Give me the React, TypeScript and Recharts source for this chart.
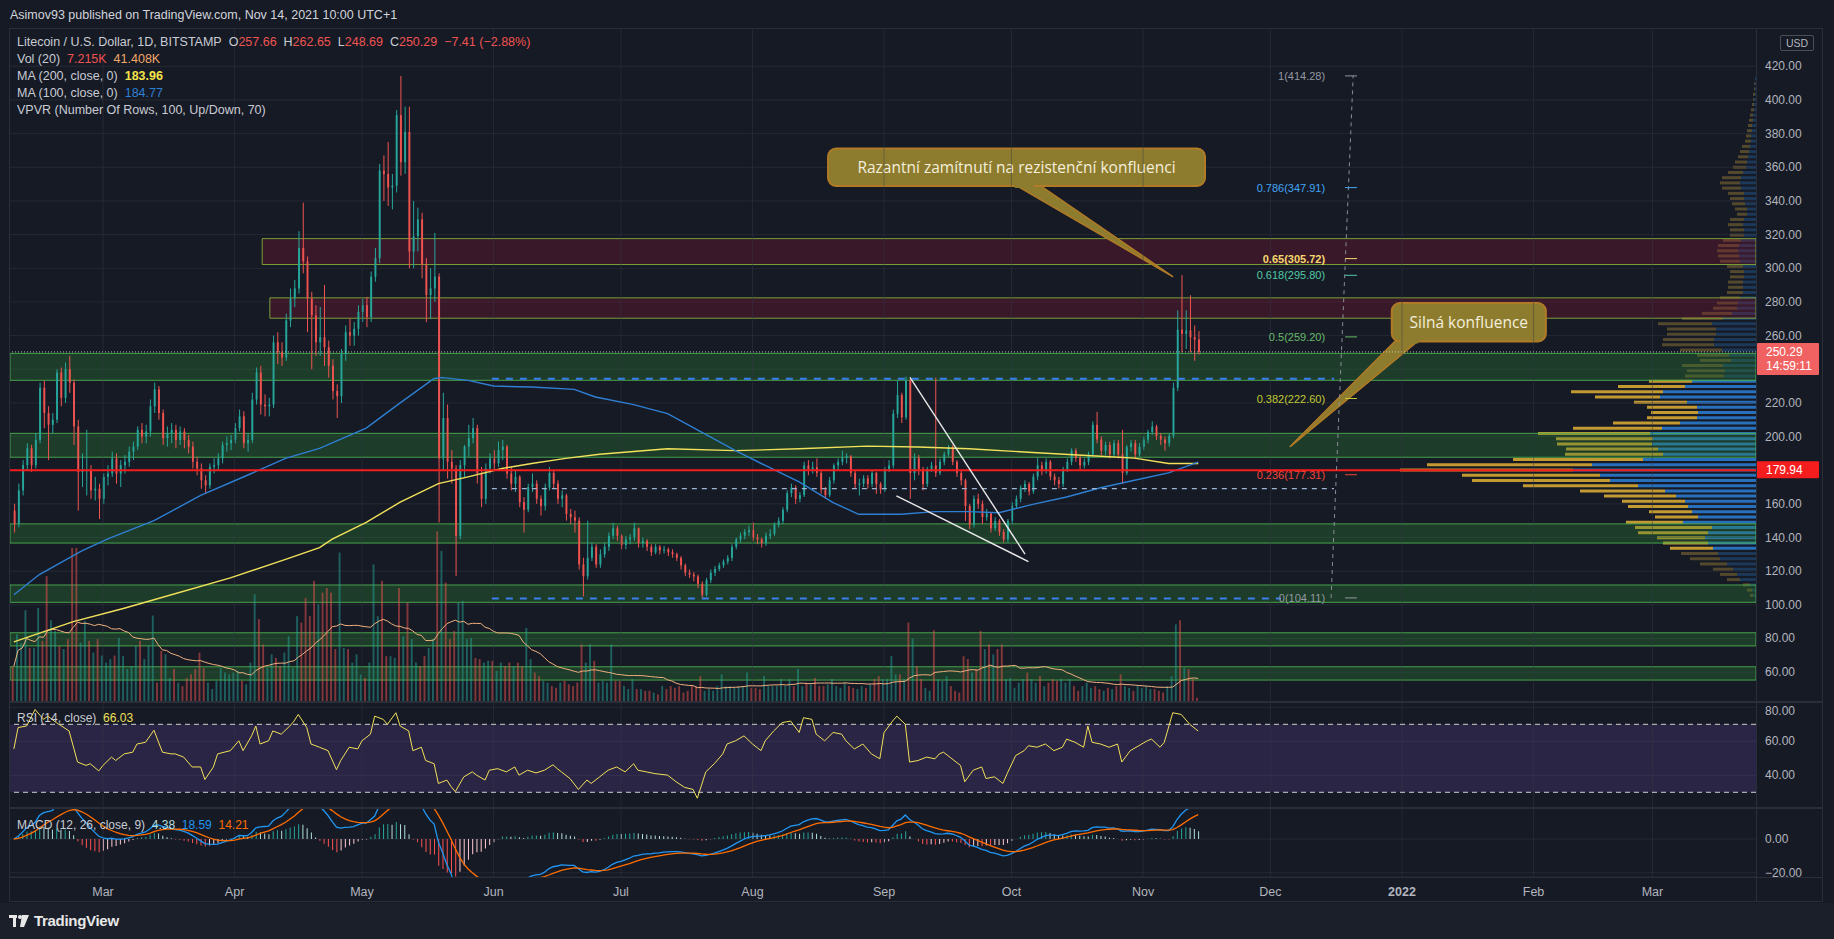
import React from "react";
import {
  ComposedChart, BarChart, Bar, Line, XAxis, YAxis, CartesianGrid,
  ReferenceArea, ReferenceLine, ReferenceDot, Cell,
} from "recharts";

// ---------------- categories (days after 1 Mar 2021) ----------------
const FIRST_DAY = -21; // first candle: 8 Feb 2021
const monthTicks = [0, 31, 61, 92, 122, 153, 184, 214, 245, 275, 306, 337, 365];
const monthNames = ["Mar", "Apr", "May", "Jun", "Jul", "Aug", "Sep", "Oct", "Nov", "Dec", "2022", "Feb", "Mar"];
const priceTicks = [60, 80, 100, 120, 140, 160, 180, 200, 220, 240, 260, 280, 300, 320, 340, 360, 380, 400, 420];

// ---------------- LTCUSD daily candles ----------------
const firstOpen = 156;
const closes = [
  148,168,183,193,183,198,229,214,207,210,238,223,240,232,206,179,180,180,168,169,163,
  176,178,187,178,183,185,191,194,204,200, 203,218,228,214,199,202,204,198,203,198,
  194,185,181,174,171,182,183,187,195,196, 198,205,212,196,198,222,238,219,218,219,
  256,250,247,269,282,288,312,304,282,272, 256,
  259,253,242,227,224,249,262,260,264,274, 278,271,295,306,358,356,348,349,391,363,
  381,310,319,329,302,284,288,295,187,211, 185,181,141,183,194,199,205,178,163,181,
  187,184,192,194,178,172,176,161,156.5,170, 172,163,158.7,169.6,178.4,172,163,165,154,152,
  150,124,117,128,134.5,124,
  130,134.5,141,145.5,141,135.6,138.9,140,145.5,136.7, 138,134.5,131.2,134.5,132.3,133,131.2,130.1,127.9,123.5,
  119.1,118,116.9,112.5,106,114.7,119.1,121.3,123.5,125.7, 127.9,134.5,138.9,141.1,143.3,144.4,140,138.9,136.7,141.1,
  142.2,147.7,149.9,156.5,166.4,169.6,163,165.2,182.8,180.6, 181.7,178.4,168.5,165.2,174,182.8,185,187.2,188.3,178.4,
  171.8,172,175.1,171.8,178.4,171.8,168.5,180.6,182.8,213.6, 224.6,211.4,233.4,
  178.4,187.2,180.6,171.8,180.6,182.8,178.4,185,189.4,193.8, 185,178.4,174,158.7,147.7,163,160,152.1,154.3,145.5,
  149.9,143.3,138.9,149.9,158.7,163,169.6,171.8,167.4,176.2, 182.8,180,185,176.2,174,171.8,180.6,185,191.6,187.2,
  182.8,185,189.4,207,198.2,191.6,195,189.4,196,189.4, 178.4,193.8,196,189.4,193.8,198.2,202.6,205.9,200.4,198.2,
  196,200.4,229,263.5,261,263,259,257.66,250.29,
];
const highs = [
  160,172,186,196,195,202,232,233,218,214,240,241,244,248,234,210,190,204,183,176,172,
  178,183,191,190,186,189,194,197,206,208, 207,222,232,230,216,206,208,207,206,205,
  201,197,188,184,177,184,187,190,197,200, 201,208,216,215,202,226,241,242,225,223,
  260,262,256,273,288,293,322,339,307,286, 278,
  277,290,257,246,231,252,266,270,268,278, 282,283,298,312,362,367,375,356,394,414.28,
  396,396,340,336,333,306,300,321,297,226, 219,192,183,186,195,207,211,207,182,184,
  190,192,197,198,195,182,180,177,164,172, 178,174,165,172,182,180,174,168,166,157,
  156,152,128,150,137,136,
  133,137,143,148.8,147,142,141,142,148.8,146, 140,139,136,136,135.5,135,134,133,131,129,
  124.5,121,119.5,118,114,116,121,123,125,127, 129.5,136,140,143,145,147,149,142,140,143,
  145,149,152,158,168,172,171,167,185,186, 185,187,180,170,176,184,187,191.6,190,189,
  180,175,177,177,180,179,173,182,186,216, 233.4,226,235.6,
  234,190,189,182,182,185,235,187,191,195, 195,186,180,175,160,165,166,162,157,155,
  152,151,145,151,161,165,171,174,173,178, 187.2,185,187,186,178,176,182,187,193,193,
  189,187,191,209,214.7,200,197,197,198,198, 204,195,198,198,196,200,204,209,207,202,
  200,202,232,275,296,275,284,266,262.65,
];
const lows = [
  143,146,165,180,179,181,196,205,186,202,208,218,220,226,195,156,170,165,163,162,151,
  160,171,176,172,170,178,182,186,192,196, 196,200,214,210,195,194,196,193,195,193,
  190,181,177,169,166,169,178,180,184,191, 192,196,203,193,191,196,219,213,212,212,
  217,243,242,245,265,277,285,297,262,240, 248,
  248,242,235,222,211,220,245,254,254,260, 268,265,268,292,303,340,337,335,345,355,
  356,300,300,310,294,268,270,280,149,180, 175,172,117,139,176,188,196,172,158,160,
  178,180,182,186,175,168,167,158,143,155, 167,160,153,156,168,169,160,158,150,148,
  143,121,105,115,126,122,
  122,128,132,139,138,133,133,136,138,134, 134,132,129,130,130,130.5,129,128,126,121,
  117,116,114,110,104.11,105,113,117,120,122, 124,126,133,137,139,141,138,136,134,135,
  139,141,146,148,155,164,160,161,164,177, 178,176,166,163,164,172,180,183,184,176,
  169,165,170,169,170,166,166,167,179,181, 211,208,210,
  163,174,177,168,170,179,176,177,183,188, 183,176,171,149.8,145,146,157,148,150,143,
  144,141,137,137,148,157,161,167,165,166, 174,177,178,174,171,169,170,179,183,185,
  180,181,183,188,196,189,189,187,188,187, 171.8,177,191,187,188,192,196,201,198,195,
  191.6,194,199,227,250,252,250,245,248.69,
];
// volume in thousands of LTC
const volumes = [
  61,115,100,156,92,92,160,104,214,139,121,95,90,107,262,262,
  101,138,104,84,107,
  79,67,73,79,109,78,56,61,96,104, 73,96,147,33,87,81,41,56,33,27,
  41,47,56,84,58,33,22,36,58,50, 47,50,53,36,30,67,183,141,98,58,
  81,75,61,84,112,58,146,135,177,146, 206,166,186,194,186,90,254,
  92,90,67,81,47,41,67,234,146,206,78,78,75,194,112,169,107,67,61,78,92,107,
  290,257,203,107,121,169,172,107,109,75,73,67,70,70,53,67,61,67,61,67,61,126,73,50,44,36,33,27,24,33,36,30,27,33,98,67,98,70,
  33,36,33,98,36,36,27,22,39,22,22,19,19,16,13,27,22,27,24,27,16,19,27,27,44,
  19,22,19,27,47,27,27,24,27,27,50,24,24,22,44,27,27,27,39,27,39,27,56,27,33,30,41,27,27,30,39,27,24,33,27,24,22,27,24,30,39,44,39,39,78,47,47,39,
  135,108,61,39,24,19,122,39,36,44,27,19,16,78,73,50,56,121,90,98,81,90,98,39,41,24,33,39,50,39,33,44,27,33,39,36,39,33,39,27,19,27,33,24,27,22,19,24,22,27,47,27,24,19,27,24,27,22,22,19,16,27,44,132,139,58,56,39,7.2,
];

// ---------------- moving averages ----------------
const ma100Days = [-21,-15,-5,1,12,23,34,43,51,62,70,78,80,86,92,101,111,116,125,133,141,149,156,164,172,178,188,196,204,211,219,227,235,243,251,258];
const ma100Vals = [106,118,132,139,150,165,177,187,193,205,220,234.5,235,233.4,230,229.4,228,223.5,219,213.6,202.6,191.6,182.8,173,160.8,153.8,153.8,155.4,155.4,154.7,159.7,164.1,169.6,174,178.4,184.77];
const ma200Days = [-21,-7,5,12,30,43,51,54,62,70,79,86,94,101,109,117,133,149,164,180,192,204,219,235,243,251,258];
const ma200Vals = [78,90,98,103,116,127,134,139,149,161,172,176,181,184,187,189.5,192.7,191.6,192.7,194.3,193.8,192.7,190.5,188.3,187.2,184,183.96];

// ---------------- RSI (14) ----------------
const rsiDays = [
  -21,-20,-18,-16,-14,-13,-11,-8,-6,-4, -3,-1,0,2,3,5,7,8,10,12, 14,16,17,19,21,23,24,26,27,30,
  32,33,35,36,37,39,40,42,44,45, 46,48,49,51,53,55,56,57,58,60, 61,63,64,66,67,69,70,72,73,75,
  76,78,79,81,82,83,85,87,88,90, 91,93,95,97,98,100,102,104,106,107, 108,110,112,114,115,117,119,121,123,125,
  126,128,130,133,135,137,139,140,142,144, 146,147,149,151,153,155,156,158,160,162, 164,165,167,168,170,172,174,175,177,179,
  181,183,184,186,187,189,190,192,194,196, 197,198,200,202,203,205,207,208,210,212, 213,215,217,218,220,222,224,226,227,229,
  231,232,233,235,237,239,240,242,244,246, 247,249,250,252,254,256,258,
];
const rsiVals = [
  55.5,68.1,69,78.7,72.9,74.8,71,66.1,47.8,45.8, 46.8,42.6,45.8,50.7,48.7,52.6,53.6,58.4,59.4,66.5, 53.6,52.6,52.6,50.7,44.9,44.9,37.5,44.9,52.6,54.5,
  60.3,54.5,63.2,69,58.4,60.3,66.1,64.2,69,71.9, 75.8,68.1,58.4,56.5,54.5,43.3,48.7,52.6,56.5,55.5, 60.3,64.2,74.8,72.9,70,76.8,69,66.1,54.5,56.5,
  48.7,46.8,35.2,37.2,33.3,30.4,39.1,42,40.1,37.2, 43,43.9,42,44.9,40.1,43,41.4,43,46.2,43.9, 42,38.1,31.7,37.2,35.2,39.1,43,44.9,42,46.8,
  43,42,41,40.1,36.2,32.9,31.7,26.5,42,46.8, 52.6,58.4,60.3,63.2,58.4,54.5,60.3,66.1,71,71.9, 65.2,73.9,72.9,64.2,60.3,65.2,64.2,60.3,55.5,58.4,
  52.6,49.7,65.2,71.9,74.8,70,47.8,48.7,50.7,49.7, 52.6,53.6,49.7,45.8,36.2,43,44.9,38.1,39.1,35.2, 41,51.6,54.5,57.4,56.5,58.4,54.5,56.5,61.3,59.4,
  56.5,69,59.4,58.4,56.5,58.4,47.8,54.5,57.4,60.3, 61.3,56.5,59.4,76.8,75.8,70,66.03,
];

// ---------------- VPVR, 100 rows from 104.11 to 414.28 (bottom -> top) ----------------
const vpUp = [
  3,4,6,16,19,23,29,36,38,43, 48,51,48,44,73,58,64,68,71,80, 91,118,146,156,183,164,113,93,98,104,
  103,106,94,76,59,58,59,69,96,93, 71,64,32,31,33,25,27,34,42,42, 40,40,44,33,24,19,18,16,13,13,
  13,12,12,13,16,17,18,17,15,12, 12,13,12,9,9,11,12,12,15,16, 15,13,10,9,8,7,6,5,5,4,
  4,3,3,2,2,2,1,1,1,1,
];
const vpDown = [
  3,5,7,13,17,20,27,30,37,43, 45,48,70,77,57,43,43,60,63,72, 85,115,138,138,173,165,130,98,92,95,
  97,112,89,67,50,47,50,53,65,92, 67,43,39,38,41,31,32,42,52,51, 49,49,54,41,30,24,21,20,16,15,
  15,14,14,16,20,21,21,21,18,14, 14,15,14,10,12,13,14,16,19,20, 19,15,13,12,10,9,8,6,5,5,
  4,4,3,3,2,1,2,1,1,0,
];

// ---------------- drawings ----------------
const greenZones = [[233.4, 249.4], [187.7, 201.9], [136.7, 148.1], [101.5, 111.8], [75.6, 83.4], [55.3, 63.2]];
const redZones = [{ from: 37.5, lo: 302.2, hi: 317.6 }, { from: 39.3, lo: 270.3, hi: 282.4 }];
const fibLevels = [
  { r: "1", v: 414.28, color: "#9598a1" },
  { r: "0.786", v: 347.91, color: "#42a5f5" },
  { r: "0.65", v: 305.72, color: "#f5d76e", bold: true },
  { r: "0.618", v: 295.8, color: "#4ec9a4" },
  { r: "0.5", v: 259.2, color: "#66bb6a" },
  { r: "0.382", v: 222.6, color: "#c0ca33" },
  { r: "0.236", v: 177.31, color: "#f44336" },
  { r: "0", v: 104.11, color: "#9598a1" },
];
const lastPrice = 250.29;
const keyLevel = 179.94;

// ---------------- styling constants ----------------
const BG = "#161a25";
const GRID = "rgba(54,58,72,0.45)";
const BORDER = "#2a2e39";
const TXT = "#b2b5be";
const UP = "#26a69a";
const DN = "#ef5350";
const FONT = "'Liberation Sans', Arial, sans-serif";
const X0 = -21.91;
const X1 = 389.4;
const P0 = 42.27;
const P1 = 442.74;
const VMAX = 1146;
const CALLOUT_FILL = "#8e7c2e";
const CALLOUT_EDGE = "#b07a26";

// ---------------- derived tables ----------------
const rows: any[] = closes.map((c, i) => {
  const o = i === 0 ? firstOpen : closes[i - 1];
  const h = Math.max(highs[i], o, c);
  const l = Math.min(lows[i], o, c);
  const from = Math.max(0, i - 19);
  const win = volumes.slice(from, i + 1);
  const vma = win.reduce((a, b) => a + b, 0) / win.length;
  return { d: FIRST_DAY + i, o, h, l, c, hl: [l, h], vol: volumes[i] ?? 0, vma, up: c >= o };
});
ma100Days.forEach((d, k) => { const r = rows[d - FIRST_DAY]; if (r) r.ma100 = ma100Vals[k]; });
ma200Days.forEach((d, k) => { const r = rows[d - FIRST_DAY]; if (r) r.ma200 = ma200Vals[k]; });

function ema(src: number[], n: number) {
  const k = 2 / (n + 1);
  const out: number[] = [];
  let e = src[0];
  src.forEach((v, i) => { e = i === 0 ? v : v * k + e * (1 - k); out.push(e); });
  return out;
}
const e12 = ema(closes, 12);
const e26 = ema(closes, 26);
const macdLine = e12.map((v, i) => v - e26[i]);
const sigLine = ema(macdLine, 9);
const macdRows = rows.map((r, i) => {
  const hist = macdLine[i] - sigLine[i];
  const prev = i > 0 ? macdLine[i - 1] - sigLine[i - 1] : hist;
  const col = hist >= 0 ? (hist >= prev ? "#26a69a" : "#b2dfdb") : (hist <= prev ? "#ff5252" : "#ffcdd2");
  return { d: r.d, macd: macdLine[i], signal: sigLine[i], hist, col };
});
const rsiRows = rsiDays.map((d, i) => ({ d, v: rsiVals[i] }));

// VPVR value area (70%)
const vpTot = vpUp.map((u, i) => u + vpDown[i]);
const vpSum = vpTot.reduce((a, b) => a + b, 0);
let poc = 0;
vpTot.forEach((v, i) => { if (v > vpTot[poc]) poc = i; });
let vaLo = poc, vaHi = poc, acc = vpTot[poc];
while (acc < vpSum * 0.7) {
  const nu = vaHi + 1 < vpTot.length ? vpTot[vaHi + 1] : -1;
  const nd = vaLo - 1 >= 0 ? vpTot[vaLo - 1] : -1;
  if (nu >= nd) { vaHi += 1; acc += vpTot[vaHi]; } else { vaLo -= 1; acc += vpTot[vaLo]; }
}
const vpRows = vpUp.map((u, i) => ({ name: "r" + i, up: u, down: vpDown[i], va: i >= vaLo && i <= vaHi })).reverse();

// ---------------- shapes ----------------
function CandleShape(props: any) {
  const { x, y, width, height, payload } = props;
  if (!payload || x == null || y == null) return <g />;
  const top = Math.min(y, y + height);
  const hgt = Math.abs(height);
  const { o, c, h, l } = payload;
  const k = h > l ? hgt / (h - l) : 0;
  const color = c >= o ? UP : DN;
  const cx = x + width / 2;
  const bTop = top + (h - Math.max(o, c)) * k;
  const bBot = top + (h - Math.min(o, c)) * k;
  return (
    <g>
      <line x1={cx} x2={cx} y1={top} y2={top + hgt} stroke={color} strokeWidth={1} />
      <rect x={x} y={bTop} width={width} height={Math.max(1, bBot - bTop)} fill={color} />
    </g>
  );
}

function makeCallout(cfg: any) {
  return (props: any) => {
    const { x, y, width, height } = props;
    if (x == null) return <g />;
    const kx = width / (cfg.x2 - cfg.x1);
    const ky = height / (cfg.y2 - cfg.y1);
    const px = (d: number) => x + (d - cfg.x1) * kx;
    const py = (p: number) => y + (cfg.y2 - p) * ky;
    const bottom = y + height;
    const tx = px(cfg.tipX), ty = py(cfg.tipY);
    const b1 = px(cfg.base1), b2 = px(cfg.base2);
    return (
      <g>
        <polygon points={`${b1},${bottom - 3} ${b2},${bottom - 3} ${tx},${ty}`} fill={CALLOUT_FILL} stroke={CALLOUT_EDGE} strokeWidth={1.5} />
        <rect x={x} y={y} width={width} height={height} rx={8} ry={8} fill={CALLOUT_FILL} stroke={CALLOUT_EDGE} strokeWidth={2} />
        <polygon points={`${b1 + 1.5},${bottom - 4} ${b2 - 1.5},${bottom - 4} ${b2 - 3},${bottom + 2} ${b1 + 3},${bottom + 2}`} fill={CALLOUT_FILL} />
        <text x={x + width / 2} y={y + height / 2} dy={5.5} textAnchor="middle" fill="#f3efdc"
          fontSize={15.5} fontFamily="'Open Sans', sans-serif">{cfg.text}</text>
      </g>
    );
  };
}
const callout1 = { x1: 170.8, x2: 259.6, y1: 348.9, y2: 371.1, tipX: 252.1, tipY: 294.9, base1: 214.1, base2: 219.9, text: "Razantní zamítnutí na rezistenční konfluenci" };
const callout2 = { x1: 303.6, x2: 339.9, y1: 256.5, y2: 279.3, tipX: 279.6, tipY: 193.9, base1: 305, base2: 310.5, text: "Silná konfluence" };

const PriceTick = (props: any) => {
  const { x, y, payload } = props;
  if (payload.value === 240 || payload.value === 180) return <g />;
  return <text x={x} y={y} dy={4} textAnchor="start" fill={TXT} fontSize={12} fontFamily={FONT}>{payload.value.toFixed(2)}</text>;
};
const SmallTick = (props: any) => {
  const { x, y, payload } = props;
  const s = payload.value < 0 ? "\u2212" + Math.abs(payload.value).toFixed(2) : payload.value.toFixed(2);
  return <text x={x} y={y} dy={4} textAnchor="start" fill={TXT} fontSize={12} fontFamily={FONT}>{s}</text>;
};
const MonthTick = (props: any) => {
  const { x, y, payload } = props;
  const idx = monthTicks.indexOf(payload.value);
  const label = idx >= 0 ? monthNames[idx] : "";
  return <text x={x} y={y} dy={9} textAnchor="middle" fill={TXT} fontSize={12.5} fontWeight={label === "2022" ? 700 : 400} fontFamily={FONT}>{label}</text>;
};

const priceBox = (lines: string[], fill: string) => (props: any) => {
  const vb = props.viewBox || {};
  const bx = vb.x + vb.width + 1;
  const by = vb.y;
  const h = lines.length > 1 ? 32 : 17;
  return (
    <g>
      <rect x={bx} y={by - 9} width={62} height={h} fill={fill} rx={1} />
      {lines.map((t, i) => (
        <text key={i} x={bx + 9} y={by + 4 + i * 14} fill="#ffffff" fontSize={12} fontFamily={FONT}>{t}</text>
      ))}
    </g>
  );
};

const margin = { top: 0, right: 12, bottom: 0, left: 10 };

export default function App() {
  return (
    <div style={{ position: "absolute", left: 0, top: 0, width: 1834, height: 939, background: BG, overflow: "hidden", fontFamily: FONT }}>
      {/* header */}
      <div style={{ position: "absolute", left: 10, top: 7, fontSize: 12.5, lineHeight: "16px", color: "#d1d4dc" }}>
        Asimov93 published on TradingView.com, Nov 14, 2021 10:00 UTC+1
      </div>

      {/* volume profile (behind the price pane) */}
      <div style={{ position: "absolute", left: 1056, top: 75.9 }}>
        <BarChart layout="vertical" width={700} height={522} data={vpRows} margin={{ top: 0, right: 0, bottom: 0, left: 0 }} barCategoryGap={1}>
          <XAxis type="number" domain={[0, 700]} reversed hide />
          <YAxis type="category" dataKey="name" hide />
          <Bar dataKey="up" stackId="vp" isAnimationActive={false}>
            {vpRows.map((r, i) => <Cell key={i} fill={r.va ? "rgba(44,128,214,0.85)" : "rgba(44,128,214,0.3)"} />)}
          </Bar>
          <Bar dataKey="down" stackId="vp" isAnimationActive={false}>
            {vpRows.map((r, i) => <Cell key={i} fill={r.va ? "rgba(226,176,52,0.85)" : "rgba(200,160,60,0.35)"} />)}
          </Bar>
        </BarChart>
      </div>

      {/* price pane */}
      <div style={{ position: "absolute", left: 0, top: 28 }}>
        <ComposedChart width={1834} height={674} data={rows} margin={margin}>
          <CartesianGrid yAxisId="p" vertical={false} stroke={GRID} />
          <XAxis type="number" dataKey="d" domain={[X0, X1]} allowDataOverflow hide />
          <YAxis yAxisId="p" orientation="right" type="number" domain={[P0, P1]} ticks={priceTicks} allowDataOverflow
            width={66} axisLine={false} tickLine={false} tickMargin={3} tick={<PriceTick />} />
          <YAxis yAxisId="v" type="number" domain={[0, VMAX]} hide allowDataOverflow />
          {monthTicks.map((t) => <ReferenceLine key={"g" + t} yAxisId="p" x={t} stroke={GRID} />)}

          {greenZones.map(([lo, hi], i) => (
            <ReferenceArea key={"gz" + i} yAxisId="p" x1={X0} x2={X1} y1={lo} y2={hi}
              fill="rgba(46,140,52,0.30)" fillOpacity={1} stroke="#4caf50" strokeWidth={1} strokeOpacity={0.9} />
          ))}
          {redZones.map((z, i) => (
            <ReferenceArea key={"rz" + i} yAxisId="p" x1={z.from} x2={X1} y1={z.lo} y2={z.hi}
              fill="rgba(140,24,52,0.30)" fillOpacity={1} stroke="#7fae3a" strokeWidth={1} strokeOpacity={0.9} />
          ))}

          <Bar yAxisId="v" dataKey="vol" barSize={3} isAnimationActive={false}>
            {rows.map((r, i) => <Cell key={i} fill={r.up ? "rgba(38,166,154,0.5)" : "rgba(239,83,80,0.5)"} />)}
          </Bar>
          <Line yAxisId="v" dataKey="vma" stroke="#f0b07e" strokeWidth={1} dot={false} isAnimationActive={false} />

          <Bar yAxisId="p" dataKey="hl" barSize={3} isAnimationActive={false} shape={(p: any) => <CandleShape {...p} />} />

          <Line yAxisId="p" dataKey="ma200" stroke="#f2e15a" strokeWidth={1.4} dot={false} connectNulls isAnimationActive={false} />
          <Line yAxisId="p" dataKey="ma100" stroke="#2f7fd2" strokeWidth={1.4} dot={false} connectNulls isAnimationActive={false} />

          {/* horizontal levels */}
          <ReferenceLine yAxisId="p" y={lastPrice} stroke="rgba(225,225,225,0.75)" strokeDasharray="1 2"
            label={priceBox(["250.29", "14:59:11"], "#f06262")} />
          <ReferenceLine yAxisId="p" y={keyLevel} stroke="#f51d1d" strokeWidth={2}
            label={priceBox(["179.94"], "#f51d1d")} />
          <ReferenceLine yAxisId="p" segment={[{ x: 91.6, y: 234.3 }, { x: 290, y: 234.3 }]} stroke="#3a7ff0" strokeWidth={2} strokeDasharray="7 7" />
          <ReferenceLine yAxisId="p" segment={[{ x: 91.6, y: 169 }, { x: 290, y: 169 }]} stroke="#9fb3d3" strokeWidth={1.2} strokeDasharray="5 5" />
          <ReferenceLine yAxisId="p" segment={[{ x: 91.6, y: 103.7 }, { x: 277.5, y: 103.7 }]} stroke="#3a7ff0" strokeWidth={2} strokeDasharray="7 7" />

          {/* falling wedge */}
          <ReferenceLine yAxisId="p" segment={[{ x: 190.1, y: 235.1 }, { x: 217.2, y: 130.1 }]} stroke="#e8e8e8" strokeWidth={1.4} />
          <ReferenceLine yAxisId="p" segment={[{ x: 186.9, y: 164.8 }, { x: 218, y: 125.7 }]} stroke="#e8e8e8" strokeWidth={1.4} />

          {/* fibonacci retracement */}
          <ReferenceLine yAxisId="p" segment={[{ x: 289.3, y: 104.11 }, { x: 294.5, y: 414.28 }]} stroke="#8a8d96" strokeDasharray="4 4" />
          {fibLevels.map((f) => (
            <ReferenceLine key={"fl" + f.r} yAxisId="p" segment={[{ x: 292.6, y: f.v }, { x: 295.4, y: f.v }]} stroke={f.color} strokeWidth={1} />
          ))}
          {fibLevels.map((f) => (
            <ReferenceDot key={"ft" + f.r} yAxisId="p" x={287.9} y={f.v} r={1}
              shape={(p: any) => (
                <text x={p.cx} y={p.cy} dy={4} textAnchor="end" fill={f.color} fontSize={11} fontWeight={f.bold ? 700 : 400} fontFamily={FONT}>
                  {`${f.r}(${f.v.toFixed(2)})`}
                </text>
              )} />
          ))}

          {/* callouts */}
          <ReferenceArea yAxisId="p" x1={callout1.x1} x2={callout1.x2} y1={callout1.y1} y2={callout1.y2} shape={makeCallout(callout1)} />
          <ReferenceArea yAxisId="p" x1={callout2.x1} x2={callout2.x2} y1={callout2.y1} y2={callout2.y2} shape={makeCallout(callout2)} />
        </ComposedChart>
      </div>

      {/* RSI pane */}
      <div style={{ position: "absolute", left: 0, top: 702 }}>
        <ComposedChart width={1834} height={106} data={rsiRows} margin={margin}>
          <CartesianGrid vertical={false} stroke={GRID} />
          <XAxis type="number" dataKey="d" domain={[X0, X1]} allowDataOverflow hide />
          <YAxis orientation="right" type="number" domain={[20.76, 83.12]} ticks={[40, 60, 80]} allowDataOverflow
            width={66} axisLine={false} tickLine={false} tickMargin={3} tick={<SmallTick />} />
          {monthTicks.map((t) => <ReferenceLine key={"rg" + t} x={t} stroke={GRID} />)}
          <ReferenceArea x1={X0} x2={X1} y1={30} y2={70} fill="rgba(126,87,194,0.2)" fillOpacity={1} />
          <ReferenceLine y={70} stroke="#d0d0d0" strokeDasharray="5 4" />
          <ReferenceLine y={30} stroke="#d0d0d0" strokeDasharray="5 4" />
          <Line dataKey="v" stroke="#f2e05a" strokeWidth={1} dot={false} isAnimationActive={false} />
        </ComposedChart>
      </div>

      {/* MACD pane + time axis */}
      <div style={{ position: "absolute", left: 0, top: 808 }}>
        <ComposedChart width={1834} height={94} data={macdRows} margin={margin}>
          <CartesianGrid vertical={false} stroke={GRID} />
          <XAxis type="number" dataKey="d" domain={[X0, X1]} ticks={monthTicks} allowDataOverflow height={25}
            axisLine={false} tickLine={false} tickMargin={4} tick={<MonthTick />} interval={0} />
          <YAxis orientation="right" type="number" domain={[-22.55, 18.4]} ticks={[-20, 0]} allowDataOverflow
            width={66} axisLine={false} tickLine={false} tickMargin={3} tick={<SmallTick />} />
          {monthTicks.map((t) => <ReferenceLine key={"mg" + t} x={t} stroke={GRID} />)}
          <Bar dataKey="hist" barSize={1} isAnimationActive={false}>
            {macdRows.map((r, i) => <Cell key={i} fill={r.col} />)}
          </Bar>
          <Line dataKey="macd" stroke="#2196f3" strokeWidth={1.3} dot={false} isAnimationActive={false} />
          <Line dataKey="signal" stroke="#ff6d00" strokeWidth={1.3} dot={false} isAnimationActive={false} />
        </ComposedChart>
      </div>

      {/* frame and separators */}
      <div style={{ position: "absolute", left: 9, top: 28, width: 1814, height: 874, border: `1px solid ${BORDER}`, boxSizing: "border-box", pointerEvents: "none" }} />
      <div style={{ position: "absolute", left: 1756, top: 28, width: 1, height: 874, background: BORDER }} />
      <div style={{ position: "absolute", left: 9, top: 701, width: 1814, height: 2, background: BORDER }} />
      <div style={{ position: "absolute", left: 9, top: 807, width: 1814, height: 2, background: BORDER }} />
      <div style={{ position: "absolute", left: 9, top: 877, width: 1814, height: 1, background: BORDER }} />

      {/* USD badge */}
      <div style={{ position: "absolute", left: 1780, top: 35, width: 32, height: 14, border: "1px solid #4a4e59", borderRadius: 2, color: TXT, fontSize: 10.5, lineHeight: "14px", textAlign: "center" }}>USD</div>

      {/* legends */}
      <div style={{ position: "absolute", left: 17, top: 34, fontSize: 12.5, lineHeight: "17px", color: "#c9ccd4", whiteSpace: "nowrap" }}>
        <div>Litecoin / U.S. Dollar, 1D, BITSTAMP&nbsp;&nbsp;O<span style={{ color: DN }}>257.66</span>&nbsp;&nbsp;H<span style={{ color: DN }}>262.65</span>&nbsp;&nbsp;L<span style={{ color: DN }}>248.69</span>&nbsp;&nbsp;C<span style={{ color: DN }}>250.29</span>&nbsp;&nbsp;<span style={{ color: DN }}>−7.41 (−2.88%)</span></div>
        <div>Vol (20)&nbsp;&nbsp;<span style={{ color: DN }}>7.215K</span>&nbsp;&nbsp;<span style={{ color: "#f0a868" }}>41.408K</span></div>
        <div>MA (200, close, 0)&nbsp;&nbsp;<span style={{ color: "#f5e34a", fontWeight: 700 }}>183.96</span></div>
        <div>MA (100, close, 0)&nbsp;&nbsp;<span style={{ color: "#2f7fd2" }}>184.77</span></div>
        <div>VPVR (Number Of Rows, 100, Up/Down, 70)</div>
      </div>
      <div style={{ position: "absolute", left: 17, top: 711, fontSize: 12, lineHeight: "15px", color: "#c9ccd4", whiteSpace: "nowrap" }}>
        RSI (14, close)&nbsp;&nbsp;<span style={{ color: "#f2e05a" }}>66.03</span>
      </div>
      <div style={{ position: "absolute", left: 17, top: 818, fontSize: 12, lineHeight: "15px", color: "#c9ccd4", whiteSpace: "nowrap" }}>
        MACD (12, 26, close, 9)&nbsp;&nbsp;<span style={{ color: "#b2dfdb" }}>4.38</span>&nbsp;&nbsp;<span style={{ color: "#2196f3" }}>18.59</span>&nbsp;&nbsp;<span style={{ color: "#ff6d00" }}>14.21</span>
      </div>

      {/* footer */}
      <div style={{ position: "absolute", left: 0, top: 903, width: 1834, height: 36, background: "#1b1f2a" }} />
      <div style={{ position: "absolute", left: 9, top: 912, display: "flex", alignItems: "center", gap: 5, color: "#e8e8e8" }}>
        <svg width="20" height="14" viewBox="0 0 20 14">
          <rect x="0" y="1" width="8" height="3" fill="#e8e8e8" />
          <rect x="4" y="1" width="3" height="12" fill="#e8e8e8" />
          <circle cx="11" cy="3" r="2" fill="#e8e8e8" />
          <polygon points="13,1 20,1 15,13 11,13" fill="#e8e8e8" />
        </svg>
        <span style={{ fontSize: 15, fontWeight: 700, letterSpacing: -0.3 }}>TradingView</span>
      </div>
    </div>
  );
}
